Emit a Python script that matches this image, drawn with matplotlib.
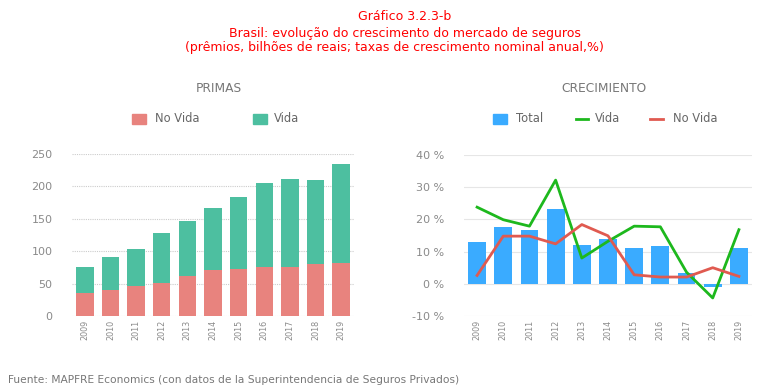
import matplotlib
matplotlib.use("Agg")
import matplotlib.pyplot as plt
from matplotlib.patches import Rectangle
from matplotlib.lines import Line2D
import numpy as np

years = ["2009", "2010", "2011", "2012", "2013", "2014", "2015", "2016", "2017", "2018", "2019"]
no_vida = [35.0, 40.2, 46.9, 50.5, 62.4, 71.1, 72.7, 75.3, 75.3, 79.9, 81.4]
total_primas = [75.3, 90.7, 104.0, 127.8, 145.9, 166.0, 183.5, 205.7, 211.9, 209.8, 234.5]
vida = [t - n for t, n in zip(total_primas, no_vida)]

crec_total = [13.1, 17.5, 16.6, 23.3, 12.2, 13.9, 11.2, 11.6, 3.2, -1.0, 11.2]
crec_vida = [23.8, 19.9, 17.9, 32.2, 8.0, 13.2, 17.9, 17.7, 3.6, -4.4, 16.8]
crec_novida = [2.6, 14.8, 14.8, 12.4, 18.4, 14.9, 2.8, 2.1, 2.1, 5.0, 2.3]

left_yticks = [0, 50, 100, 150, 200, 250]
right_yticks = [-10, 0, 10, 20, 30, 40]

C_NV = "#E8837E"
C_V = "#4DBFA0"
C_T = "#3AABFF"
C_LV = "#1DB81D"
C_LNV = "#E05A50"
GRAY = "#8a8a8a"
LEGGRAY = "#666666"

W, H = 772, 391
fig = plt.figure(figsize=(W / 100, H / 100), dpi=100)

def ax_rect(x0, y0, x1, y1):
    return [x0 / W, 1 - y1 / H, (x1 - x0) / W, (y1 - y0) / H]

def fx(px):
    return px / W

def fy(py):
    return 1 - py / H

x = np.arange(len(years))

# Left chart
ax1 = fig.add_axes(ax_rect(72, 154, 354, 316))
ax1.bar(x, no_vida, width=0.68, color=C_NV, zorder=2)
ax1.bar(x, vida, width=0.68, bottom=no_vida, color=C_V, zorder=2)
ax1.set_xlim(-0.5, 10.5)
ax1.set_ylim(0, 250)
ax1.set_yticks(left_yticks)
ax1.set_yticklabels([str(v) for v in left_yticks])
ax1.set_xticks(x)
ax1.set_xticklabels(years, rotation=90)
ax1.grid(axis="y", color="#cccccc", linestyle=(0, (1, 1)), linewidth=0.8, zorder=0)
for s in ax1.spines.values():
    s.set_visible(False)
ax1.tick_params(axis="y", length=0, labelsize=8, labelcolor=GRAY, pad=14)
ax1.tick_params(axis="x", length=0, labelsize=5.8, labelcolor=GRAY, pad=3)

# Right chart
ax2 = fig.add_axes(ax_rect(464, 155, 752, 316))
ax2.bar(x, crec_total, width=0.68, color=C_T, zorder=2)
ax2.plot(x, crec_vida, color=C_LV, linewidth=2, zorder=3)
ax2.plot(x, crec_novida, color=C_LNV, linewidth=2, zorder=3)
ax2.set_xlim(-0.5, 10.5)
ax2.set_ylim(-10, 40)
ax2.set_yticks(right_yticks)
ax2.set_yticklabels([f"{v} %" for v in right_yticks])
ax2.set_xticks(x)
ax2.set_xticklabels(years, rotation=90)
ax2.grid(axis="y", color="#e6e6e6", linestyle="-", linewidth=0.8, zorder=0)
for s in ax2.spines.values():
    s.set_visible(False)
ax2.tick_params(axis="y", length=0, labelsize=8, labelcolor=GRAY, pad=14)
ax2.tick_params(axis="x", length=0, labelsize=5.8, labelcolor=GRAY, pad=3)

# Titles
fig.text(fx(405), fy(17), "Gráfico 3.2.3-b", color="red", fontsize=9, ha="center", va="center")
fig.text(fx(405), fy(33), "Brasil: evolução do crescimento do mercado de seguros", color="red",
         fontsize=9, ha="center", va="center")
fig.text(fx(394), fy(47), "(prêmios, bilhões de reais; taxas de crescimento nominal anual,%)", color="red",
         fontsize=9, ha="center", va="center")

fig.text(fx(219), fy(88), "PRIMAS", color="#777777", fontsize=8.8, ha="center", va="center")
fig.text(fx(604), fy(88), "CRECIMIENTO", color="#777777", fontsize=8.8, ha="center", va="center")

# Legends (manual)
def leg_square(x0, label, color, tx):
    fig.add_artist(Rectangle((fx(x0), fy(124)), 14 / W, 10 / H, transform=fig.transFigure,
                             color=color))
    fig.text(fx(tx), fy(119), label, color=LEGGRAY, fontsize=8.3, ha="left", va="center")

def leg_line(x0, x1, label, color, tx):
    fig.add_artist(Line2D([fx(x0), fx(x1)], [fy(119), fy(119)], transform=fig.transFigure,
                          color=color, linewidth=2))
    fig.text(fx(tx), fy(119), label, color=LEGGRAY, fontsize=8.3, ha="left", va="center")

leg_square(132, "No Vida", C_NV, 155)
leg_square(253, "Vida", C_V, 274)
leg_square(493, "Total", C_T, 516)
leg_line(576, 588, "Vida", C_LV, 595)
leg_line(650, 663, "No Vida", C_LNV, 673)

fig.text(fx(8), fy(380), "Fuente: MAPFRE Economics (con datos de la Superintendencia de Seguros Privados)",
         color="#777777", fontsize=7.7, ha="left", va="center")

fig.savefig("out.png", dpi=100)
